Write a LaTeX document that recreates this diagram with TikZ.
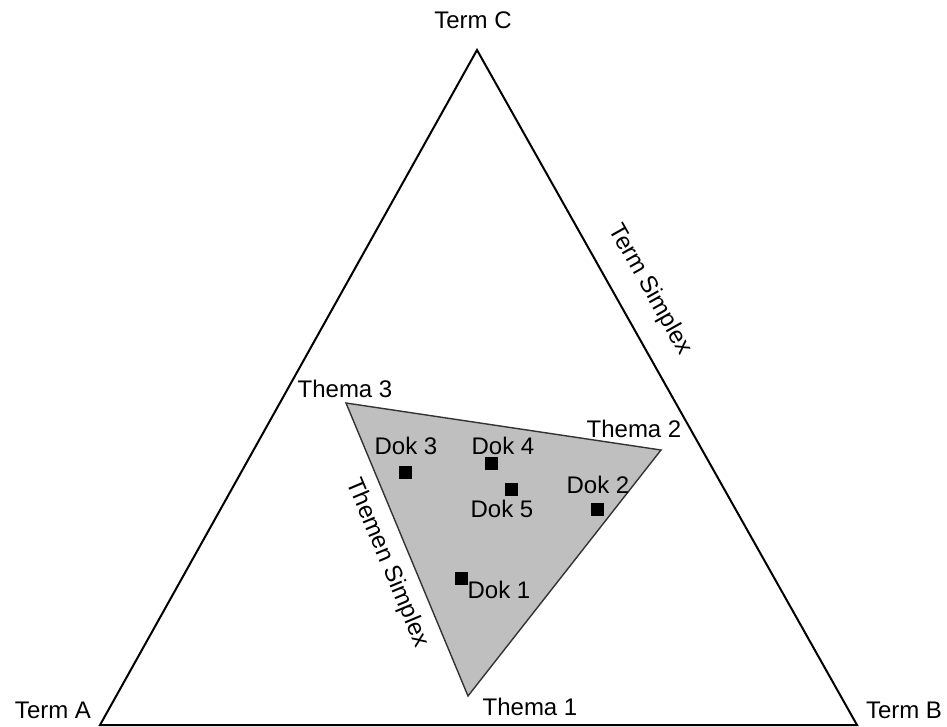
\documentclass[tikz,border=0pt]{standalone}
\usepackage{fontspec}
\setmainfont{Liberation Sans}
\begin{document}
\begin{tikzpicture}[x=0.5pt,y=-0.5pt,
  lbl/.style={font=\fontsize{12pt}{14pt}\selectfont, inner sep=0pt, anchor=base},
  rlbl/.style={font=\fontsize{12pt}{14pt}\selectfont, inner sep=0pt, anchor=center},
  doc/.style={fill=black, draw=none, minimum size=6.5pt, inner sep=0pt},
  outer/.style={draw=black, line width=1pt},
  inner/.style={draw=black!80, fill=black!25, line width=0.7pt}]
\useasboundingbox (0,0) rectangle (947,727);
% term simplex corners
\coordinate (A) at (100,725);
\coordinate (B) at (857,725);
\coordinate (C) at (477,50);
% topic simplex corners
\coordinate (T1) at (468,696);
\coordinate (T2) at (661,450);
\coordinate (T3) at (346,403);
\draw[outer] (A) -- (B) -- (C) -- cycle;
\draw[inner] (T1) -- (T2) -- (T3) -- cycle;
% vertex labels
\node[lbl] (la) at (53,718) {Term A};
\node[lbl] (lb) at (904,718) {Term B};
\node[lbl] (lc) at (473,29) {Term C};
\node[lbl] (l1) at (530,715) {Thema 1};
\node[lbl] (l2) at (634,437) {Thema 2};
\node[lbl] (l3) at (345,397) {Thema 3};
% edge labels
\node[rlbl, rotate=-60.6] (ts) at (650,290) {Term Simplex};
\node[rlbl, rotate=-67.3] (tt) at (387,563) {Themen Simplex};
% documents
\node[doc] (d1) at (461,578) {};
\node[doc] (d2) at (597,509) {};
\node[doc] (d3) at (405,472) {};
\node[doc] (d4) at (491,463) {};
\node[doc] (d5) at (511,489) {};
\node[lbl] (ld1) at (499,598) {Dok 1};
\node[lbl] (ld2) at (598,493) {Dok 2};
\node[lbl] (ld3) at (406,454) {Dok 3};
\node[lbl] (ld4) at (503,454) {Dok 4};
\node[lbl] (ld5) at (502,517) {Dok 5};
\end{tikzpicture}
\end{document}
